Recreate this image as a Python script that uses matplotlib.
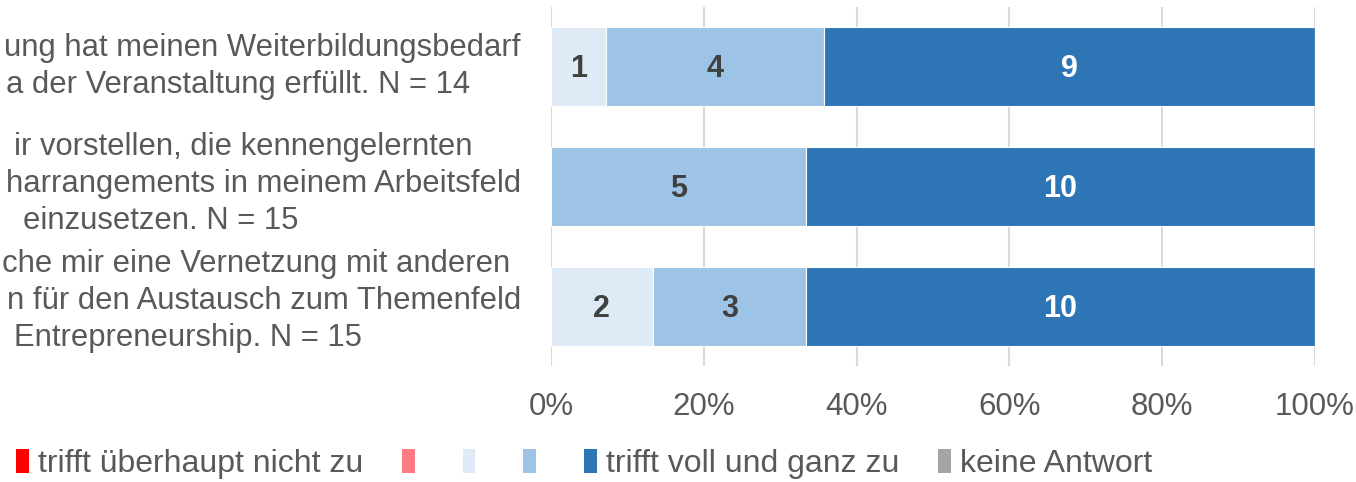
import numpy as np
import matplotlib.pyplot as plt
from matplotlib.patches import Patch
from matplotlib.transforms import blended_transform_factory

plt.rcParams['font.family'] = ['Liberation Sans', 'DejaVu Sans']

# ------------------------------------------------------------
# Daten
# ------------------------------------------------------------
# sichtbare Teile der (links abgeschnittenen) Aussagen, Zeile für Zeile
label_lines = [
    ["ung hat meinen Weiterbildungsbedarf", "a der Veranstaltung erfüllt. N = 14"],
    ["ir vorstellen, die kennengelernten", "harrangements in meinem Arbeitsfeld", "einzusetzen. N = 15"],
    ["che mir eine Vernetzung mit anderen", "n für den Austausch zum Themenfeld", "Entrepreneurship. N = 15"],
]
line_right = [[520, 470], [472, 521, 298], [510, 521, 362]]   # rechte Kante in px

legend_labels = ["trifft überhaupt nicht zu", "", "", "", "trifft voll und ganz zu", "keine Antwort"]
colors = ["#FF0000", "#FF7C80", "#DEEBF7", "#9DC3E6", "#2E75B6", "#A5A5A5"]

# Anzahl Antworten je Kategorie (Spalten = Legendenreihenfolge)
counts = np.array([
    [0, 0, 1, 4, 9, 0],
    [0, 0, 0, 5, 10, 0],
    [0, 0, 2, 3, 10, 0],
])
xticks = [0, 20, 40, 60, 80, 100]

# ------------------------------------------------------------
# Plot
# ------------------------------------------------------------
W, H = 1356, 482
fig = plt.figure(figsize=(W / 100, H / 100), dpi=100)
ax = fig.add_axes([551 / W, 1 - 366 / H, (1315 - 551) / W, (366 - 7) / H])

totals = counts.sum(axis=1)
pct = counts / totals[:, None] * 100
y = np.arange(len(counts))
left = np.zeros(len(counts))
for j in range(counts.shape[1]):
    ax.barh(y, pct[:, j], left=left, height=0.66, color=colors[j],
            edgecolor='white', linewidth=0.8, zorder=3)
    for i in range(len(counts)):
        if counts[i, j] > 0:
            txtcol = 'white' if j == 4 else '#404040'
            ax.text(left[i] + pct[i, j] / 2, y[i] + 0.02, str(counts[i, j]),
                    ha='center', va='center', fontsize=22, fontweight='bold',
                    color=txtcol, zorder=4)
    left += pct[:, j]

ax.set_xlim(0, 100)
ax.set_ylim(2.5, -0.5)
ax.set_xticks(xticks)
ax.set_xticklabels([f"{v}%" for v in xticks], fontsize=22.5, color='#595959')
ax.tick_params(axis='x', length=0, pad=19)
ax.set_yticks([])
ax.grid(axis='x', color='#D9D9D9', linewidth=1.5, zorder=0)
for s in ax.spines.values():
    s.set_visible(False)

# Aussagen links (zentrierte Blöcke, links abgeschnitten)
trans = blended_transform_factory(fig.transFigure, ax.transData)
for i, lines in enumerate(label_lines):
    n = len(lines)
    for k, line in enumerate(lines):
        yy = i + (k - (n - 1) / 2) * 0.31 - 0.02 * i
        fig.text(line_right[i][k] / W, yy, line, transform=trans,
                 ha='right', va='center', fontsize=22.3, color='#595959')

handles = [Patch(facecolor=c, edgecolor='none') for c in colors]
fig.legend(handles, legend_labels, loc='center left', bbox_to_anchor=(16 / W, 1 - 464 / H),
           ncol=6, frameon=False, fontsize=23, labelcolor='#595959',
           borderpad=0, borderaxespad=0,
           handlelength=0.4, handleheight=0.75, handletextpad=0.3, columnspacing=1.2)

fig.savefig("out.png", dpi=100)
